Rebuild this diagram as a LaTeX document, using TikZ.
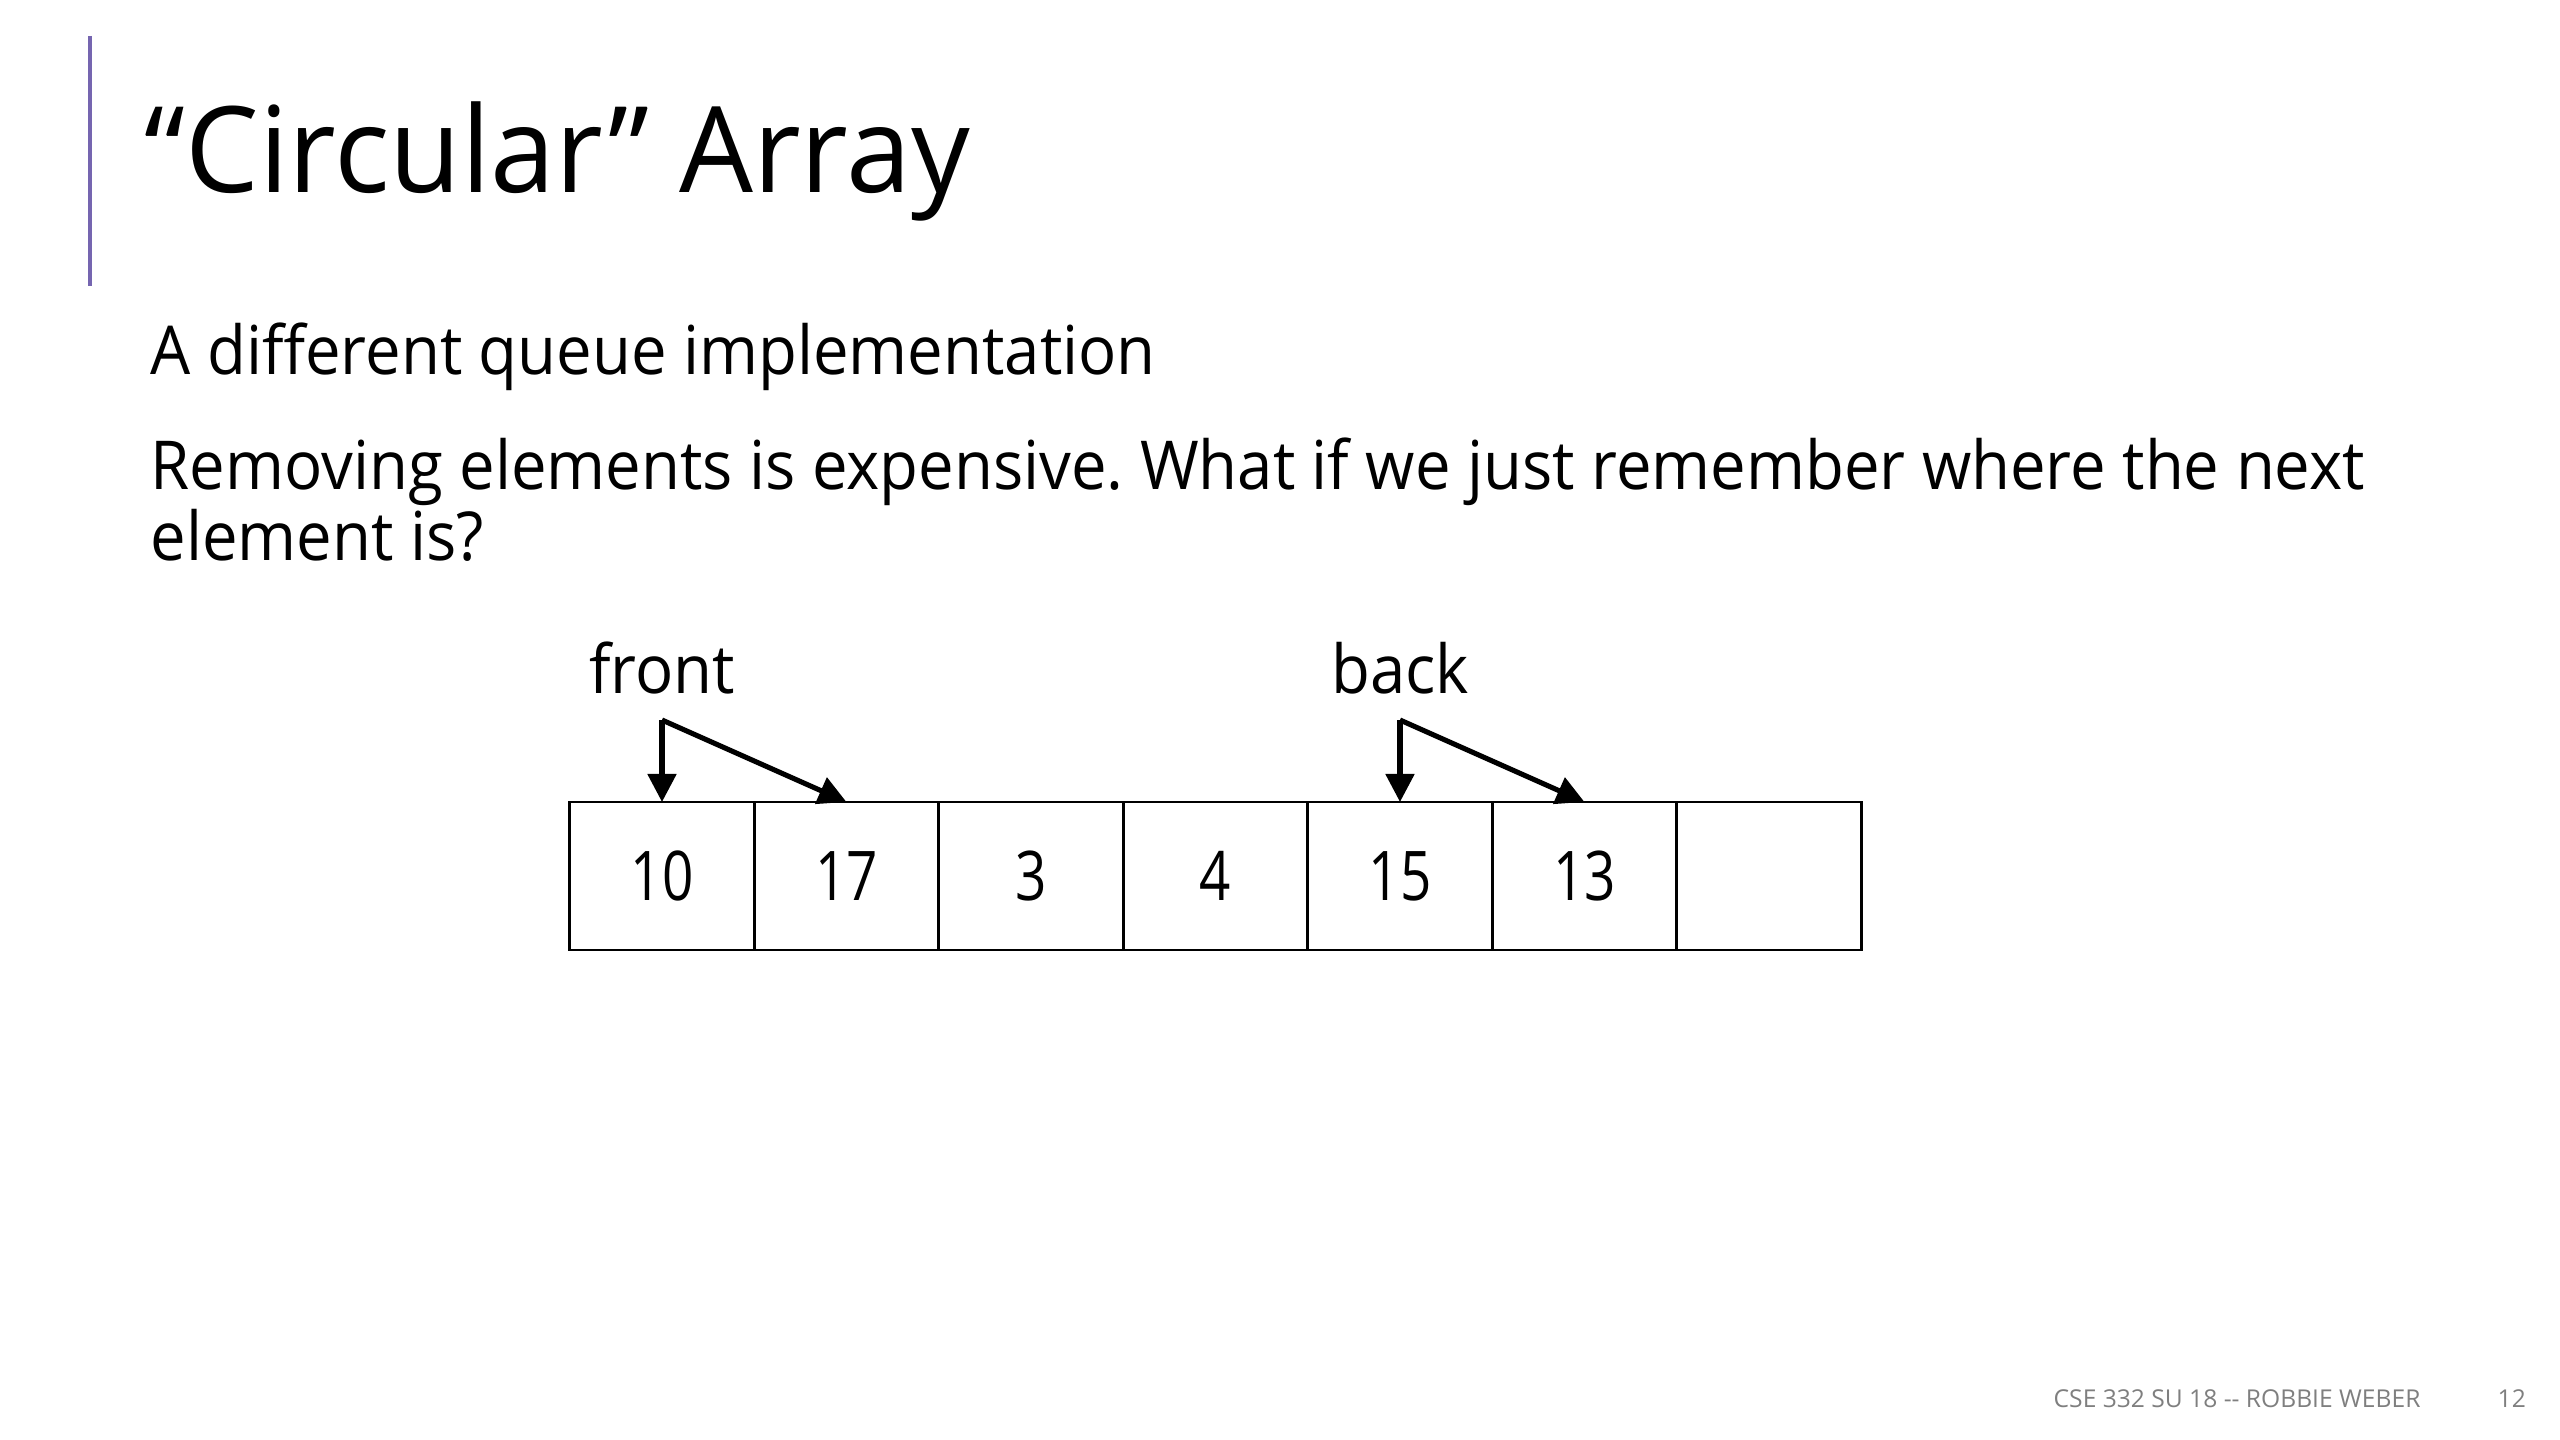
\documentclass[tikz,border=0pt]{standalone}
\usepackage{fontspec}
\setmainfont{Open Sans}
\newfontfamily\titlefont[FakeStretch=0.977]{Open Sans}
\newfontfamily\bodyfont[FakeStretch=0.94]{Open Sans}
\newfontfamily\numfont[FakeStretch=0.8]{Open Sans}
\usetikzlibrary{arrows.meta, positioning}
\definecolor{barpurple}{HTML}{7565B0}
\definecolor{footgray}{HTML}{7F7F7F}
\frenchspacing

\begin{document}
\begin{tikzpicture}[x=0.1mm, y=-0.1mm,
    cell/.style={draw, line width=0.75pt, minimum width=18.45mm, minimum height=14.8mm, inner sep=0pt, outer sep=0pt, font=\numfont\fontsize{19.5}{24}\selectfont},
    txt/.style={anchor=base west, inner sep=0pt},
    ptr/.style={-{Triangle[length=2.8mm,width=2.8mm]}, line width=1.45pt}]

    % Khung trang
    \useasboundingbox (0,0) rectangle (2560,1440);

    % Vạch tím bên trái tiêu đề
    \draw[barpurple, line width=1pt] (90,36) -- (90,286);

    % Tiêu đề và nội dung
    \node[txt, font=\titlefont\fontsize{34}{40}\selectfont] (title) at (144,193) {“Circular” Array};
    \node[txt, font=\bodyfont\fontsize{19.2}{24}\selectfont] (line1) at (150,375) {A different queue implementation};
    \node[txt, font=\bodyfont\fontsize{19.2}{24}\selectfont] (line2) at (150,490) {Removing elements is expensive. What if we just remember where the next};
    \node[txt, font=\bodyfont\fontsize{19.2}{24}\selectfont] (line3) at (150,561) {element is?};

    % Các ô của mảng
    \foreach \v [count=\i from 0] in {10,17,3,4,15,13,{}}
        \node[cell] (c\i) at ({662+184.5*\i},876) {\v};

    % Con trỏ front và back
    \coordinate (fp) at (c0.north |- 0,720);
    \coordinate (bp) at (c4.north |- 0,720);
    \node[anchor=base, inner sep=0pt, font=\bodyfont\fontsize{19.2}{24}\selectfont] (front) at ([yshift=2.6mm]fp) {front};
    \node[anchor=base, inner sep=0pt, font=\bodyfont\fontsize{19.2}{24}\selectfont] (back) at ([yshift=2.6mm]bp) {back};
    \draw[ptr] (fp) -- (c0.north); % xuống ô đầu
    \draw[ptr] (fp) -- (c1.north); % sang ô kế
    \draw[ptr] (bp) -- (c4.north);
    \draw[ptr] (bp) -- (c5.north);

    % Chân trang
    \node[txt, footgray, font=\fontsize{7}{8}\selectfont] (foot) at (2053,1407) {CSE 332 SU 18 {-}{-} ROBBIE WEBER};
    \node[txt, footgray, font=\fontsize{7}{8}\selectfont] (page) at (2497,1407) {12};

\end{tikzpicture}
\end{document}
